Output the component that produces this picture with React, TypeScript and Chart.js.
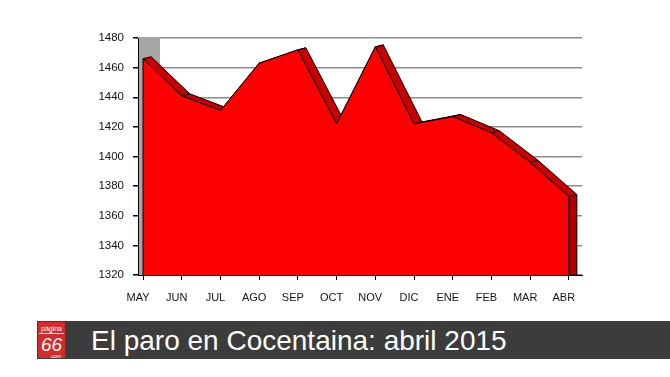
import React, { useEffect, useRef } from "react";
import { Chart, registerables } from "chart.js";

Chart.register(...registerables);

const MONTHS = ["MAY", "JUN", "JUL", "AGO", "SEP", "OCT", "NOV", "DIC", "ENE", "FEB", "MAR", "ABR"];
const PARADOS = [1466, 1441, 1431, 1463, 1472, 1422, 1474, 1422, 1427, 1416, 1396, 1373];
const Y_MIN = 1320;
const Y_MAX = 1480;
const Y_STEP = 20;
const TITLE = "El paro en Cocentaina: abril 2015";

const DX = 8;
const DY = -2;

const depthPlugin = {
  id: "depth3d",
  beforeDatasetsDraw(chart: any) {
    const { ctx, chartArea } = chart;
    const meta = chart.getDatasetMeta(0);
    const pts = meta.data;
    if (!pts || !pts.length) return;
    const bottom = chart.scales.y.getPixelForValue(Y_MIN);
    ctx.save();
    // grey left wall
    ctx.fillStyle = "#a6a6a6";
    ctx.fillRect(chartArea.left + 1, chartArea.top - 1, 21, bottom - chartArea.top + 1);
    ctx.lineWidth = 1;
    ctx.strokeStyle = "#000";
    ctx.lineJoin = "round";
    // right side face
    const pn = pts[pts.length - 1];
    ctx.beginPath();
    ctx.moveTo(pn.x, pn.y);
    ctx.lineTo(pn.x + DX, pn.y + DY);
    ctx.lineTo(pn.x + DX, bottom);
    ctx.lineTo(pn.x, bottom);
    ctx.closePath();
    ctx.fillStyle = "#b00000";
    ctx.fill();
    ctx.stroke();
    // top faces, one per segment
    for (let i = 0; i < pts.length - 1; i++) {
      const a = pts[i];
      const b = pts[i + 1];
      ctx.beginPath();
      ctx.moveTo(a.x, a.y);
      ctx.lineTo(b.x, b.y);
      ctx.lineTo(b.x + DX, b.y + DY);
      ctx.lineTo(a.x + DX, a.y + DY);
      ctx.closePath();
      ctx.fillStyle = "#c80000";
      ctx.fill();
      ctx.stroke();
    }
    ctx.restore();
  },
  afterDatasetsDraw(chart: any) {
    const { ctx } = chart;
    const pts = chart.getDatasetMeta(0).data;
    if (!pts || !pts.length) return;
    const bottom = chart.scales.y.getPixelForValue(Y_MIN);
    const p0 = pts[0];
    const pn = pts[pts.length - 1];
    ctx.save();
    ctx.strokeStyle = "#000";
    ctx.lineWidth = 1;
    ctx.beginPath();
    ctx.moveTo(p0.x, p0.y);
    ctx.lineTo(p0.x, bottom);
    ctx.moveTo(pn.x, pn.y);
    ctx.lineTo(pn.x, bottom);
    ctx.stroke();
    ctx.restore();
  },
};

function ParoChart() {
  const ref = useRef<HTMLCanvasElement | null>(null);
  useEffect(() => {
    if (!ref.current) return;
    const chart = new Chart(ref.current, {
      type: "line",
      data: {
        datasets: [
          {
            data: PARADOS.map((v, i) => ({ x: i, y: v })),
            borderColor: "#000",
            borderWidth: 1,
            backgroundColor: "#ff0000",
            fill: "start",
            pointRadius: 0,
            tension: 0,
          },
        ],
      },
      options: {
        responsive: false,
        animation: false,
        layout: { padding: { left: 78, right: 88, top: 38, bottom: 10 } },
        plugins: { legend: { display: false }, tooltip: { enabled: false }, title: { display: false } },
        scales: {
          x: {
            type: "linear",
            min: -0.13,
            max: 11.34,
            afterFit: (s: any) => {
              s.height = 30;
            },
            border: { color: "#000", width: 1 },
            grid: { drawOnChartArea: false, tickLength: 5, tickColor: "#000", lineWidth: 1 },
            ticks: {
              stepSize: 1,
              includeBounds: false,
              autoSkip: false,
              maxRotation: 0,
              padding: 11,
              labelOffset: -5,
              color: "#111",
              font: { family: "'Liberation Sans', Arial, sans-serif", size: 11 },
              callback: (v: any) => (Number.isInteger(v) ? MONTHS[v] ?? "" : ""),
            },
          },
          y: {
            min: Y_MIN,
            max: Y_MAX,
            afterFit: (s: any) => {
              s.width = 60;
            },
            border: { color: "#000", width: 1 },
            grid: { color: "#8c8c8c", lineWidth: 1.5, tickLength: 5, tickColor: "#000" },
            ticks: {
              stepSize: Y_STEP,
              padding: 9,
              color: "#111",
              font: { family: "'Liberation Sans', Arial, sans-serif", size: 11.5 },
              callback: (v: any) => String(v),
            },
          },
        },
      },
      plugins: [depthPlugin],
    } as any);
    return () => chart.destroy();
  }, []);
  return <canvas ref={ref} width={670} height={315} style={{ position: "absolute", left: 0, top: 0 }} />;
}

export default function App() {
  return (
    <div
      style={{
        position: "fixed",
        left: 0,
        top: 0,
        width: 670,
        height: 377,
        background: "#fff",
        overflow: "hidden",
        fontFamily: "'Liberation Sans', Arial, sans-serif",
      }}
    >
      <ParoChart />
      <div style={{ position: "absolute", left: 37, top: 321, width: 633, height: 38, background: "#3c3c3c" }}>
        <div
          style={{
            position: "absolute",
            left: 1,
            top: 1,
            width: 27,
            height: 36,
            background: "#d42a2a",
            color: "#fff",
            textAlign: "center",
          }}
        >
          <div style={{ fontSize: 7, lineHeight: "7px", marginTop: 3, borderBottom: "1px solid #fff", marginLeft: 1, marginRight: 1, paddingBottom: 1 }}>
            página
          </div>
          <div style={{ fontSize: 19, lineHeight: "19px", fontStyle: "italic", marginTop: 1 }}>66</div>
          <div style={{ fontSize: 5, lineHeight: "5px", textAlign: "right", marginRight: 4 }}>.com</div>
        </div>
        <div
          style={{
            position: "absolute",
            left: 54,
            top: 6,
            fontSize: 28,
            lineHeight: "28px",
            color: "#fff",
            whiteSpace: "nowrap",
          }}
        >
          {TITLE}
        </div>
      </div>
    </div>
  );
}
